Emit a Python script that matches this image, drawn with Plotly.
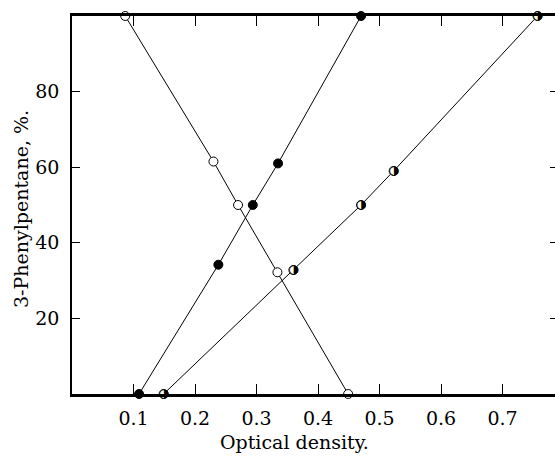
import plotly.graph_objects as go

# Data (optical density vs % 3-phenylpentane)
open_x = [0.0865, 0.230, 0.270, 0.334, 0.449]
open_y = [100, 61.5, 50, 32.2, 0]

filled_x = [0.109, 0.238, 0.294, 0.335, 0.470]
filled_y = [0, 34.2, 50, 61, 100]

half_x = [0.149, 0.360, 0.470, 0.523, 0.757]
half_y = [0, 32.8, 50, 59, 100]

x_ticks = [0.1, 0.2, 0.3, 0.4, 0.5, 0.6, 0.7]
x_tick_text = ["0.1", "0.2", "0.3", "0.4", "0.5", "0.6", "0.7"]
y_ticks = [20, 40, 60, 80]
y_tick_text = ["20", "40", "60", "80"]

FONT = "DejaVu Serif"
W, H = 555, 462
ML, MR, MT, MB = 72, 0, 16, 68
XMAX = (W - ML - MR) / 615.0

fig = go.Figure()

line_style = dict(color="black", width=1)

fig.add_trace(go.Scatter(
    x=open_x, y=open_y, mode="lines+markers", line=line_style,
    marker=dict(symbol="circle", size=9, color="white", line=dict(color="black", width=1)),
    cliponaxis=False, showlegend=False))
fig.add_trace(go.Scatter(
    x=filled_x, y=filled_y, mode="lines+markers", line=line_style,
    marker=dict(symbol="circle", size=9, color="black", line=dict(color="black", width=1)),
    cliponaxis=False, showlegend=False))
fig.add_trace(go.Scatter(
    x=half_x, y=half_y, mode="lines+markers", line=line_style,
    marker=dict(symbol="circle", size=9, color="white", line=dict(color="black", width=1)),
    cliponaxis=False, showlegend=False))
# right half black overlay (half-filled circle)
fig.add_trace(go.Scatter(
    x=half_x, y=half_y, mode="text", text=["\u25D1"] * len(half_x),
    textposition="middle center",
    textfont=dict(family="DejaVu Sans", size=12, color="black"),
    cliponaxis=False, showlegend=False, hoverinfo="skip"))
# invisible trace to host the right-hand tick axis
fig.add_trace(go.Scatter(x=[None], y=[None], yaxis="y2", showlegend=False, hoverinfo="skip"))

fig.update_layout(
    width=W, height=H,
    margin=dict(l=ML, r=MR, t=MT, b=MB),
    paper_bgcolor="white", plot_bgcolor="white",
    font=dict(family=FONT, size=19, color="black"),
    xaxis=dict(range=[0, XMAX], tickvals=x_ticks, ticktext=x_tick_text,
               ticks="inside", ticklen=10, tickwidth=1, tickcolor="black",
               showline=True, linewidth=2.5, linecolor="black", mirror="ticks",
               showgrid=False, zeroline=False, ticklabelstandoff=5,
               tickfont=dict(family=FONT, size=19)),
    yaxis=dict(range=[0, 100], tickvals=y_ticks, ticktext=y_tick_text,
               ticks="inside", ticklen=8, tickwidth=1, tickcolor="black",
               showline=True, linewidth=1.5, linecolor="black",
               showgrid=False, zeroline=False, ticklabelstandoff=7,
               tickfont=dict(family=FONT, size=19)),
    yaxis2=dict(range=[0, 100], overlaying="y", side="right", tickvals=y_ticks,
                ticks="inside", ticklen=5, tickwidth=1, tickcolor="black",
                showticklabels=False, showline=False, showgrid=False, zeroline=False),
    annotations=[
        dict(text="Optical density.", xref="paper", yref="paper", x=(294 - ML) / (W - ML - MR),
             y=0, yshift=-48, showarrow=False, xanchor="center", yanchor="middle",
             font=dict(family=FONT, size=19)),
        dict(text="3-Phenylpentane, %.", xref="paper", yref="paper", x=0, xshift=-51,
             y=0.5, yshift=-4, textangle=-90, showarrow=False, xanchor="center", yanchor="middle",
             font=dict(family=FONT, size=19)),
    ],
)

fig.write_html("out.html")
